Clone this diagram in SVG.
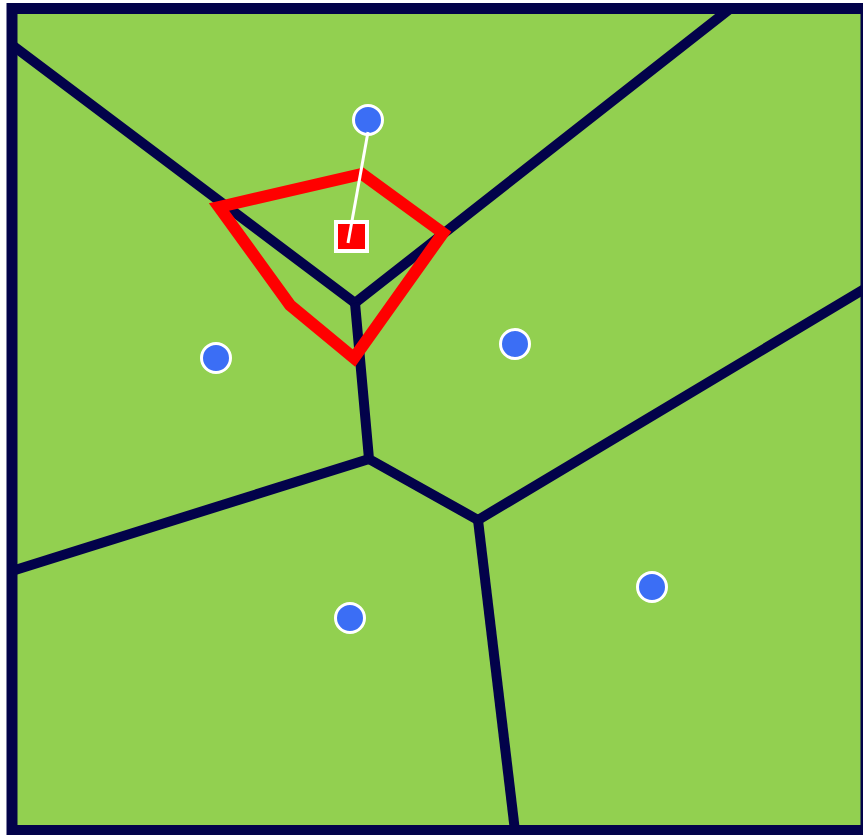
<svg xmlns="http://www.w3.org/2000/svg" width="863" height="835" viewBox="0 0 863 835">
<style>
.edge{fill:none;stroke:#02024a;stroke-width:10;stroke-linejoin:miter}
.site{fill:#3b6ef5;stroke:#ffffff;stroke-width:3}
</style>
<rect x="0" y="0" width="863" height="835" fill="#ffffff"/>
<g id="cells">
<rect x="12" y="8.5" width="854" height="822" fill="#92d050"/>
</g>
<g id="connectors">
<polyline class="edge" points="12,45 355,303 731,8"/>
<polyline class="edge" points="355,303 369,459 478,520 866,288"/>
<line class="edge" x1="369" y1="459" x2="12" y2="571"/>
<line class="edge" x1="478" y1="520" x2="515" y2="831"/>
<rect x="12" y="8.5" width="854" height="822" fill="none" stroke="#02024a" stroke-width="11"/>
</g>
<g id="region">
<polygon points="219,207 362,174 443,233 354,358 290,305" fill="none" stroke="#ff0000" stroke-width="12" stroke-linejoin="miter"/>
</g>
<g id="site-top"><circle class="site" cx="368" cy="120" r="14.5"/></g>
<g id="site-left"><circle class="site" cx="216" cy="358" r="14.5"/></g>
<g id="site-mid"><circle class="site" cx="515" cy="344" r="14.5"/></g>
<g id="site-bottom"><circle class="site" cx="350" cy="618" r="14.5"/></g>
<g id="site-right"><circle class="site" cx="652" cy="587" r="14.5"/></g>
<g id="query">
<rect x="336" y="222" width="31" height="29" fill="#ff0000" stroke="#ffffff" stroke-width="4"/>
<line x1="368" y1="132" x2="348" y2="243" stroke="#ffffff" stroke-width="3"/>
</g>
</svg>
